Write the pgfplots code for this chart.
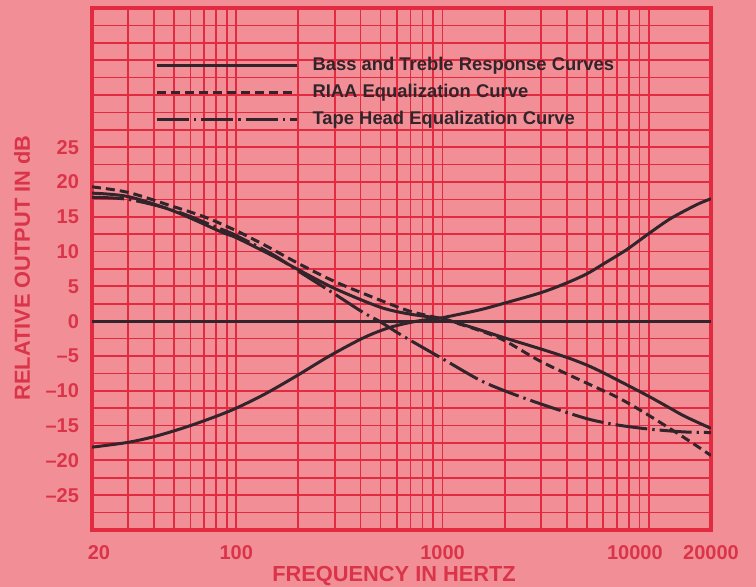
\documentclass[border=0pt]{standalone}
\usepackage{fontspec}
\setmainfont{Liberation Sans}
\usepackage{pgfplots}
\pgfplotsset{compat=1.18}
\definecolor{bgpink}{RGB}{242,143,150}
\definecolor{gridred}{RGB}{226,42,64}
\definecolor{labred}{RGB}{218,52,74}
\definecolor{ink}{RGB}{50,36,42}
\begin{document}
\begin{tikzpicture}
\fill[bgpink] (0,0) rectangle (378pt,293.5pt);
\useasboundingbox (0,0) rectangle (378pt,293.5pt);
\begin{axis}[
  at={(46pt,28.5pt)}, anchor=south west,
  scale only axis, width=309.5pt, height=261pt,
  xmode=log, xmin=20, xmax=20000, ymin=-30, ymax=45,
  xtick={20,100,1000,10000,20000},
  xticklabels={{\hspace*{7pt}20},100,1000,{10000\hspace*{14pt}},20000},
  minor xtick={30,40,50,60,70,80,90,200,300,400,500,600,700,800,900,2000,3000,4000,5000,6000,7000,8000,9000},
  ytick={-25,-20,-15,-10,-5,0,5,10,15,20,25},
  yticklabels={--25,--20,--15,--10,--5,0,5,10,15,20,25},
  minor ytick={-27.5,-22.5,-17.5,-12.5,-7.5,-2.5,2.5,7.5,12.5,17.5,22.5,27.5,30,32.5,35,37.5,40,42.5},
  grid=both,
  major grid style={draw=gridred, line width=0.9pt},
  minor grid style={draw=gridred, line width=0.85pt},
  axis line style={draw=gridred, line width=1.6pt},
  major tick length=0pt, minor tick length=0pt,
  tick style={draw=none},
  ticklabel style={font=\bfseries\fontsize{10}{12}\selectfont, text=labred},
  xticklabel style={yshift=-4pt},
  yticklabel style={xshift=-3pt},
  xlabel={FREQUENCY IN HERTZ},
  ylabel={RELATIVE OUTPUT IN dB},
  label style={font=\bfseries\fontsize{10.9}{12}\selectfont, text=labred},
  xlabel style={at={(axis description cs:0.488,-0.088)}, anchor=center},
  ylabel style={at={(axis description cs:-0.113,0.502)}, anchor=center, rotate=0},
  legend style={at={(axis description cs:0.102,0.907)}, anchor=north west,
    draw=none, fill=none, inner sep=0pt, row sep=4.5pt,
    font=\bfseries\fontsize{9.2}{11}\selectfont, text=ink,
    nodes={inner sep=0pt, text height=6.8pt, text depth=2.2pt}},
  legend cell align=left,
  /tikz/every odd column/.append style={column sep=7pt},
  legend image code/.code={\draw[#1] (0pt,0pt) -- (70pt,0pt);},
  curve/.style={draw=ink, line width=1.5pt, smooth, mark=none},
]
% Flat response
\addplot[curve] coordinates {(20,0) (20000,0)};
\addlegendentry{Bass and Treble Response Curves}
% RIAA
\addplot[curve, dash pattern=on 4.5pt off 2.5pt] coordinates {
(20,19.3) (30,18.5) (48,16.6) (70,15.0) (100,13.0) (140,10.8) (200,8.3) (300,5.7) (500,3.0) (700,1.4) (1000,0.3) (1500,-1.3) (2000,-2.8) (3000,-5.8) (5000,-8.9) (7000,-10.9) (9340,-13.0) (14600,-16.6) (20000,-19.3)};
\addlegendentry{RIAA Equalization Curve}
% Tape head
\addplot[curve, dash pattern=on 16pt off 2.5pt on 1.2pt off 2.5pt] coordinates {
(20,17.8) (30,17.5) (50,15.9) (85,13.2) (100,12.3) (150,9.6) (200,7.2) (300,3.9) (410,1.3) (500,-0.1) (640,-2.1) (1000,-5.4) (1500,-8.4) (2000,-10.0) (3000,-11.9) (5000,-14.0) (7000,-14.9) (10000,-15.5) (14600,-15.9) (20000,-16.0)};
\addlegendentry{Tape Head Equalization Curve}
% Bass boost
\addplot[curve, forget plot] coordinates {
(20,18.4) (30,17.9) (50,15.8) (85,12.8) (100,12.0) (150,9.4) (200,7.4) (300,4.7) (500,2.0) (700,1.0) (1000,0.4)};
% Bass cut
\addplot[curve, forget plot] coordinates {
(20,-18.1) (30,-17.4) (41,-16.5) (60,-15.0) (93,-12.9) (135,-10.6) (195,-7.9) (283,-5.0) (413,-2.4) (555,-0.9) (750,0.0) (1000,0.5)};
% Treble boost
\addplot[curve, forget plot] coordinates {
(1000,0.5) (1500,1.6) (2000,2.6) (3000,4.1) (4000,5.5) (5000,6.8) (6000,8.2) (7000,9.4) (8000,10.5) (10000,12.6) (12500,14.6) (15000,15.9) (17500,16.9) (20000,17.6)};
% Treble cut
\addplot[curve, forget plot] coordinates {
(1000,0.4) (1500,-1.2) (2000,-2.4) (3000,-4.0) (4000,-5.2) (5000,-6.3) (6000,-7.4) (8000,-9.3) (10000,-10.8) (12500,-12.4) (15000,-13.7) (20000,-15.4)};
\end{axis}
\end{tikzpicture}
\end{document}
